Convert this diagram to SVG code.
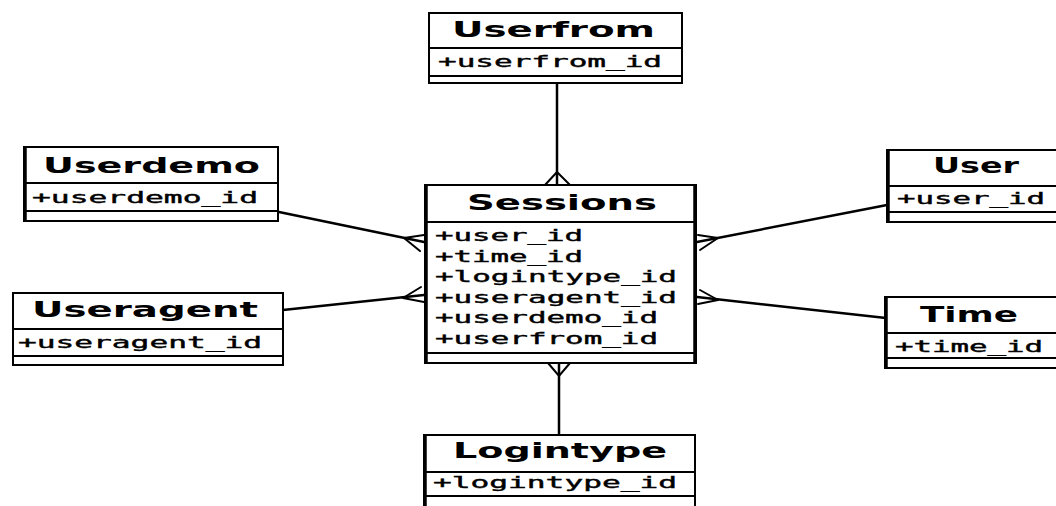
<svg xmlns="http://www.w3.org/2000/svg" width="1056" height="506" viewBox="0 0 1056 506">
  <style>
    .box { fill: #ffffff; stroke: #000000; stroke-width: 2; }
    .sep { stroke: #000000; stroke-width: 2; }
    .edge { stroke: #000000; stroke-width: 3.5; }
    .title { font-family: "DejaVu Sans", sans-serif; font-weight: bold; font-size: 21px; fill: #000000; }
    .attr { font-family: "DejaVu Sans Mono", monospace; font-size: 16px; fill: #000000; stroke: #000000; stroke-width: 0.4; }
    .rel { stroke: #000000; stroke-width: 2.5; fill: none; stroke-linecap: round; }
    .foot { stroke: #000000; stroke-width: 2; fill: none; stroke-linecap: round; }
  </style>
  <rect width="1056" height="506" fill="#ffffff"/>

  <!-- relationships: each entity joins Sessions with a many-side crow's foot -->
  <g id="connectors">
    <line class="rel" x1="557" y1="84" x2="557" y2="185"/>
    <path class="foot" d="M545,185 L557,172 L570,185 M557,172 L557,185"/>

    <line class="rel" x1="559" y1="363" x2="559" y2="435"/>
    <path class="foot" d="M548,363 L559,376 L570,363"/>

    <line class="rel" x1="279" y1="212" x2="424" y2="242"/>
    <path class="foot" d="M404,238 L424,235 M404,238 L420,251"/>

    <line class="rel" x1="283" y1="310" x2="424" y2="295"/>
    <path class="foot" d="M403,298 L421,287 M403,298 L424,302"/>

    <line class="rel" x1="697" y1="242" x2="887" y2="205"/>
    <path class="foot" d="M718,238 L698,235 M718,238 L700,250"/>

    <line class="rel" x1="697" y1="297" x2="886" y2="318"/>
    <path class="foot" d="M718,300 L700,290 M718,300 L698,304"/>
  </g>

  <g id="userfrom">
    <rect class="box" x="429" y="13" width="253" height="70"/>
    <line class="sep" x1="429" y1="48" x2="682" y2="48"/>
    <line class="sep" x1="429" y1="76" x2="682" y2="76"/>
    <text class="title" x="452" y="37" textLength="203" lengthAdjust="spacingAndGlyphs">Userfrom</text>
    <text class="attr" x="438" y="67" textLength="224" lengthAdjust="spacingAndGlyphs">+userfrom_id</text>
  </g>

  <g id="userdemo">
    <rect class="box" x="24" y="147" width="254" height="74"/>
    <line class="edge" x1="25" y1="147" x2="25" y2="221"/>
    <line class="sep" x1="24" y1="183" x2="278" y2="183"/>
    <line class="sep" x1="24" y1="211" x2="278" y2="211"/>
    <text class="title" x="43" y="173" textLength="217" lengthAdjust="spacingAndGlyphs">Userdemo</text>
    <text class="attr" x="32" y="203" textLength="226" lengthAdjust="spacingAndGlyphs">+userdemo_id</text>
  </g>

  <g id="useragent">
    <rect class="box" x="13" y="293" width="270" height="72"/>
    <line class="sep" x1="13" y1="329" x2="283" y2="329"/>
    <line class="sep" x1="13" y1="356" x2="283" y2="356"/>
    <text class="title" x="32" y="317" textLength="226" lengthAdjust="spacingAndGlyphs">Useragent</text>
    <text class="attr" x="18" y="348" textLength="244" lengthAdjust="spacingAndGlyphs">+useragent_id</text>
  </g>

  <g id="sessions">
    <rect class="box" x="425" y="185" width="271" height="178"/>
    <line class="edge" x1="426" y1="185" x2="426" y2="363"/>
    <line class="edge" x1="695" y1="185" x2="695" y2="363"/>
    <line class="sep" x1="425" y1="222" x2="696" y2="222"/>
    <line class="sep" x1="425" y1="353" x2="696" y2="353"/>
    <text class="title" x="467" y="210" textLength="190" lengthAdjust="spacingAndGlyphs">Sessions</text>
    <text class="attr" x="435" y="241" textLength="148" lengthAdjust="spacingAndGlyphs">+user_id</text>
    <text class="attr" x="435" y="262" textLength="148" lengthAdjust="spacingAndGlyphs">+time_id</text>
    <text class="attr" x="435" y="282" textLength="242" lengthAdjust="spacingAndGlyphs">+logintype_id</text>
    <text class="attr" x="435" y="303" textLength="242" lengthAdjust="spacingAndGlyphs">+useragent_id</text>
    <text class="attr" x="435" y="323" textLength="223" lengthAdjust="spacingAndGlyphs">+userdemo_id</text>
    <text class="attr" x="435" y="344" textLength="223" lengthAdjust="spacingAndGlyphs">+userfrom_id</text>
  </g>

  <g id="user">
    <rect class="box" x="887" y="150" width="180" height="72"/>
    <line class="edge" x1="888" y1="150" x2="888" y2="222"/>
    <line class="sep" x1="887" y1="186" x2="1056" y2="186"/>
    <line class="sep" x1="887" y1="212" x2="1056" y2="212"/>
    <text class="title" x="933" y="173" textLength="86" lengthAdjust="spacingAndGlyphs">User</text>
    <text class="attr" x="897" y="204" textLength="148" lengthAdjust="spacingAndGlyphs">+user_id</text>
  </g>

  <g id="time">
    <rect class="box" x="885" y="297" width="180" height="71"/>
    <line class="edge" x1="886" y1="297" x2="886" y2="368"/>
    <line class="sep" x1="885" y1="333" x2="1056" y2="333"/>
    <line class="sep" x1="885" y1="358" x2="1056" y2="358"/>
    <text class="title" x="920" y="322" textLength="98" lengthAdjust="spacingAndGlyphs">Time</text>
    <text class="attr" x="895" y="352" textLength="148" lengthAdjust="spacingAndGlyphs">+time_id</text>
  </g>

  <g id="logintype">
    <rect class="box" x="424" y="435" width="271" height="80"/>
    <line class="edge" x1="425" y1="435" x2="425" y2="506"/>
    <line class="sep" x1="424" y1="472" x2="695" y2="472"/>
    <line class="sep" x1="424" y1="496" x2="695" y2="496"/>
    <text class="title" x="453" y="458" textLength="214" lengthAdjust="spacingAndGlyphs">Logintype</text>
    <text class="attr" x="433" y="488" textLength="244" lengthAdjust="spacingAndGlyphs">+logintype_id</text>
  </g>
</svg>
